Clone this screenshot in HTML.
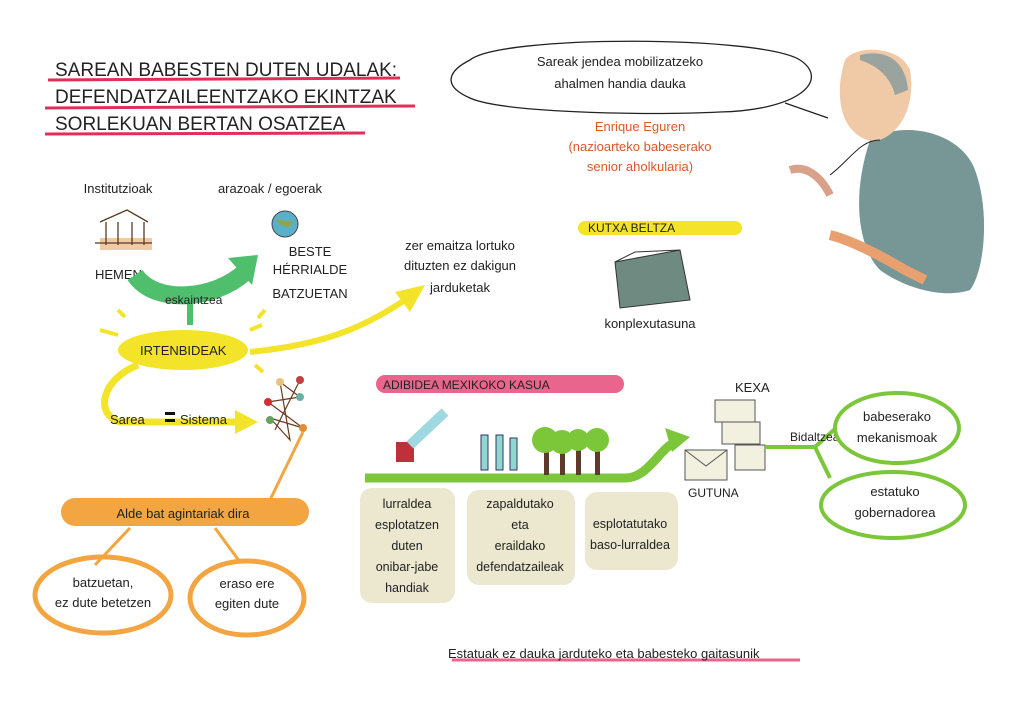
<!DOCTYPE html>
<html><head><meta charset="utf-8"><style>
html,body{margin:0;padding:0;background:#fff}
svg{display:block}
text{font-family:"Liberation Sans",sans-serif;fill:#222}
</style></head><body>
<svg width="1024" height="724" viewBox="0 0 1024 724" xmlns="http://www.w3.org/2000/svg">
<rect width="1024" height="724" fill="#fff"/>
<g font-size="19" >
<path d="M48 80 L400 78" stroke="#e0305a" stroke-width="3"/>
<path d="M45 108 L415 106" stroke="#e0305a" stroke-width="3"/>
<path d="M45 134 L365 133" stroke="#e0305a" stroke-width="3"/>
<text x="55" y="76">SAREAN BABESTEN DUTEN UDALAK:</text>
<text x="55" y="103">DEFENDATZAILEENTZAKO EKINTZAK</text>
<text x="55" y="130">SORLEKUAN BERTAN OSATZEA</text>
</g>
<path d="M470 60 C500 35 760 35 800 60 C830 80 800 110 720 112 C640 116 500 112 470 98 C440 85 450 70 470 60 Z" fill="none" stroke="#222" stroke-width="1.3"/>
<path d="M785 103 L828 118" stroke="#222" stroke-width="1.2"/>
<text x="620" y="66" font-size="13" text-anchor="middle">Sareak jendea mobilizatzeko</text>
<text x="620" y="88" font-size="13" text-anchor="middle">ahalmen handia dauka</text>
<g font-size="13" text-anchor="middle">
<text x="640" y="131" style="fill:#d9582a">Enrique Eguren</text>
<text x="640" y="151" style="fill:#d9582a">(nazioarteko babeserako</text>
<text x="640" y="171" style="fill:#d9582a">senior aholkularia)</text>
</g>
<path d="M870 140 C900 120 960 130 975 170 C990 210 985 270 970 290 C940 300 900 285 880 270 C860 250 850 200 870 140Z" fill="#5f8585" opacity="0.85"/>
<path d="M830 235 C850 240 880 255 905 270 L925 280" stroke="#e9a070" stroke-width="10" fill="none"/>
<path d="M845 60 C855 45 900 45 910 70 C915 100 905 130 880 140 C860 145 845 125 842 110 C838 95 840 75 845 60Z" fill="#f0c9a6"/>
<path d="M860 55 C880 50 905 55 908 90 L895 95 C890 75 875 65 860 60Z" fill="#9aa39e"/>
<path d="M790 170 C805 165 820 175 830 195" stroke="#d9a08a" stroke-width="8" fill="none"/>
<path d="M830 175 C850 160 860 140 880 140" stroke="#222" fill="none"/>
<text x="118" y="193" font-size="13" text-anchor="middle">Institutzioak</text>
<text x="270" y="193" font-size="13" text-anchor="middle">arazoak / egoerak</text>
<rect x="100" y="238" width="52" height="12" fill="#f2c9a5"/>
<path d="M100 222 L127 210 L148 222 M106 222 V245 M118 222 V245 M132 222 V245 M144 222 V245 M95 243 H152" stroke="#5a3a20" stroke-width="1.3" fill="none"/>
<circle cx="285" cy="224" r="13" fill="#5ab0c8" stroke="#444"/>
<path d="M276 219 C280 228 290 230 294 222" fill="#8aa55a"/>
<text x="95" y="279" font-size="13">HEMEN</text>
<g font-size="13" text-anchor="middle"><text x="310" y="256">BESTE</text><text x="310" y="274">HÉRRIALDE</text><text x="310" y="298">BATZUETAN</text></g>
<path d="M135 275 C155 305 215 300 245 272" stroke="#4fbf6e" stroke-width="18" fill="none"/>
<path d="M228 258 L258 255 L252 285 Z" fill="#4fbf6e"/>
<path d="M190 295 V325" stroke="#4fbf6e" stroke-width="6"/>
<text x="165" y="304" font-size="12">eskaintzea</text>
<ellipse cx="183" cy="350" rx="65" ry="20" fill="#f3e42a"/>
<g stroke="#f3e42a" stroke-width="4"><path d="M118 335 L100 330"/><path d="M125 317 L118 310"/><path d="M250 330 L262 325"/><path d="M255 365 L263 372"/><path d="M258 318 L265 310"/></g>
<text x="140" y="355" font-size="13">IRTENBIDEAK</text>
<path d="M250 352 C320 345 360 330 405 300" stroke="#f3e42a" stroke-width="6" fill="none"/>
<path d="M395 292 L425 285 L410 312 Z" fill="#f3e42a"/>
<path d="M138 365 C100 380 95 415 120 422 L235 422" stroke="#f3e42a" stroke-width="7" fill="none"/>
<path d="M235 410 L258 422 L235 434Z" fill="#f3e42a"/>
<text x="110" y="424" font-size="13">Sarea</text>
<rect x="165" y="412" width="10" height="3" fill="#111"/><rect x="165" y="419" width="10" height="3" fill="#111"/>
<text x="180" y="424" font-size="13">Sistema</text>
<g stroke="#6b3a20" stroke-width="1.2" fill="none"><path d="M280 382 L300 397 L268 402 L303 428 L270 418 L290 440 L280 382 M300 380 L275 430 M268 402 L300 397"/></g>
<circle cx="280" cy="382" r="4" fill="#e8c080"/><circle cx="300" cy="380" r="4" fill="#c04040"/><circle cx="300" cy="397" r="4" fill="#6ab0a0"/><circle cx="268" cy="402" r="4" fill="#d03030"/><circle cx="270" cy="420" r="4" fill="#6aa060"/><circle cx="303" cy="428" r="4" fill="#e09030"/>
<path d="M303 432 L270 500" stroke="#f2a540" stroke-width="3"/>
<g font-size="13" text-anchor="middle"><text x="460" y="250">zer emaitza lortuko</text><text x="460" y="270">dituzten ez dakigun</text><text x="460" y="292">jarduketak</text></g>
<path d="M585 228 H735" stroke="#f3e42a" stroke-width="14" stroke-linecap="round"/>
<text x="588" y="232" font-size="12">KUTXA BELTZA</text>
<path d="M615 262 L680 250 L690 300 L620 308 Z" fill="#6f8a80" stroke="#333"/>
<path d="M615 262 L635 252 L680 250" stroke="#333" fill="none"/>
<text x="650" y="328" font-size="13" text-anchor="middle">konplexutasuna</text>
<path d="M75 512 H295" stroke="#f2a540" stroke-width="28" stroke-linecap="round"/>
<text x="183" y="518" font-size="13" text-anchor="middle">Alde bat agintariak dira</text>
<path d="M130 528 L95 565 M215 528 L240 562" stroke="#f2a540" stroke-width="3"/>
<ellipse cx="103" cy="595" rx="68" ry="38" fill="none" stroke="#f2a540" stroke-width="5"/>
<ellipse cx="247" cy="598" rx="57" ry="37" fill="none" stroke="#f2a540" stroke-width="5"/>
<g font-size="13" text-anchor="middle"><text x="103" y="587">batzuetan,</text><text x="103" y="607">ez dute betetzen</text><text x="247" y="588">eraso ere</text><text x="247" y="608">egiten dute</text></g>
<path d="M385 384 H615" stroke="#e9658e" stroke-width="18" stroke-linecap="round"/>
<text x="383" y="389" font-size="12">ADIBIDEA  MEXIKOKO KASUA</text>
<path d="M365 478 H625 C650 478 660 445 680 440" stroke="#7cc63a" stroke-width="9" fill="none"/>
<path d="M665 428 L690 437 L672 452Z" fill="#7cc63a"/>
<rect x="396" y="442" width="18" height="20" fill="#c0303a"/>
<path d="M410 445 L445 412" stroke="#9fd8e0" stroke-width="10"/>
<g fill="#8fd8d0" stroke="#336"><rect x="481" y="435" width="7" height="35"/><rect x="496" y="435" width="7" height="35"/><rect x="510" y="438" width="7" height="32"/></g>
<g fill="#5d3a2a"><rect x="544" y="450" width="5" height="25"/><rect x="560" y="450" width="5" height="25"/><rect x="576" y="450" width="5" height="25"/><rect x="595" y="450" width="5" height="25"/></g>
<g fill="#7cc63a"><circle cx="545" cy="440" r="13"/><circle cx="562" cy="442" r="12"/><circle cx="578" cy="440" r="11"/><circle cx="597" cy="440" r="12"/></g>
<g fill="#ebe8cf"><rect x="360" y="488" width="95" height="115" rx="12"/><rect x="467" y="490" width="108" height="95" rx="12"/><rect x="585" y="492" width="93" height="78" rx="12"/></g>
<g font-size="12.5" text-anchor="middle">
<text x="407" y="508">lurraldea</text><text x="407" y="529">esplotatzen</text><text x="407" y="550">duten</text><text x="407" y="571">onibar-jabe</text><text x="407" y="592">handiak</text>
<text x="520" y="508">zapaldutako</text><text x="520" y="529">eta</text><text x="520" y="550">eraildako</text><text x="520" y="571">defendatzaileak</text>
<text x="630" y="528">esplotatutako</text><text x="630" y="549">baso-lurraldea</text>
</g>
<g fill="#f2f0df" stroke="#555"><rect x="715" y="400" width="40" height="22"/><rect x="722" y="422" width="38" height="22"/><rect x="735" y="445" width="30" height="25"/><rect x="685" y="450" width="42" height="30"/></g>
<path d="M685 450 L706 466 L727 450" stroke="#555" fill="none"/>
<text x="735" y="392" font-size="13">KEXA</text>
<text x="688" y="497" font-size="12">GUTUNA</text>
<path d="M765 447 H815 L836 428 M815 447 L830 478" stroke="#7cc63a" stroke-width="4" fill="none"/>
<text x="790" y="441" font-size="12">Bidaltzea</text>
<ellipse cx="897" cy="428" rx="62" ry="35" fill="none" stroke="#7cc63a" stroke-width="4"/>
<ellipse cx="893" cy="505" rx="72" ry="33" fill="none" stroke="#7cc63a" stroke-width="4"/>
<g font-size="13" text-anchor="middle"><text x="897" y="421">babeserako</text><text x="897" y="442">mekanismoak</text><text x="895" y="496">estatuko</text><text x="895" y="517">gobernadorea</text></g>
<path d="M452 660 H800" stroke="#e9658e" stroke-width="3"/>
<text x="448" y="658" font-size="13">Estatuak ez dauka jarduteko eta babesteko gaitasunik</text>
</svg>
</body></html>
